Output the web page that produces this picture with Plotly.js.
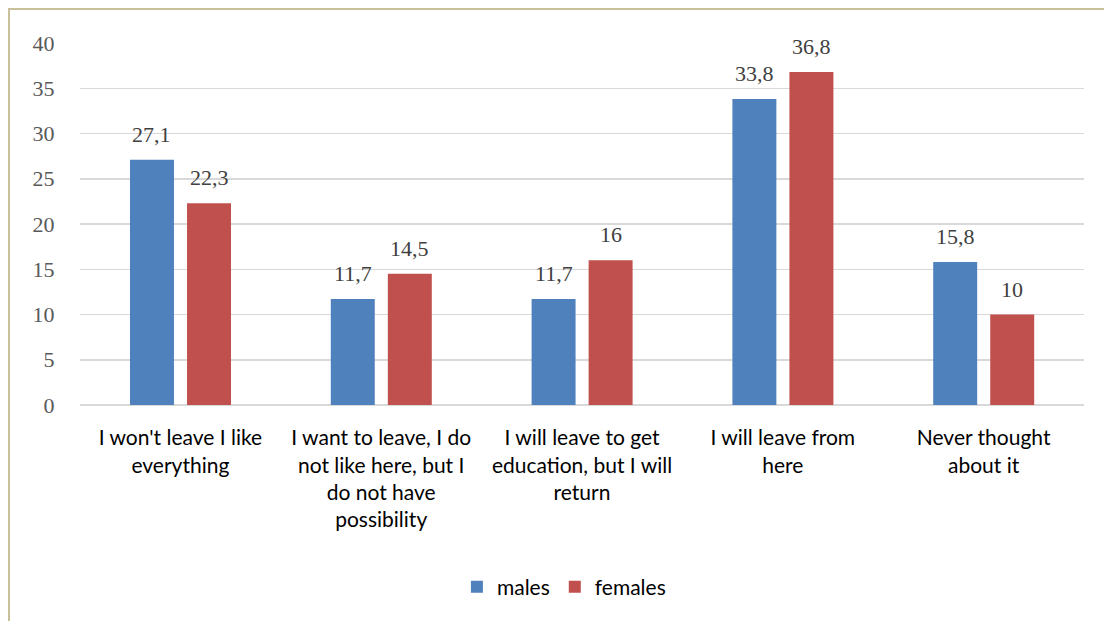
<!DOCTYPE html>
<html>
<head>
<meta charset="utf-8">
<script src="https://cdn.plot.ly/plotly-3.0.1.min.js"></script>
<style>
  html, body { margin: 0; padding: 0; background: #ffffff; }
  #frame { position: absolute; left: 8px; top: 8px; width: 1096px; height: 613px;
           border-left: 2px solid #c8c09b; border-top: 2px solid #c8c09b; box-sizing: border-box; }
  #chart { position: absolute; left: 0; top: 0; width: 1104px; height: 621px; }
</style>
</head>
<body>
<div id="frame"></div>
<div id="chart"></div>
<script>
const categories = [
  "I won't leave I like<br>everything",
  "I want to leave, I do<br>not like here, but I<br>do not have<br>possibility",
  "I will leave to get<br>education, but I will<br>return",
  "I will leave from<br>here",
  "Never thought<br>about it"
];
const males = [27.1, 11.7, 11.7, 33.8, 15.8];
const females = [22.3, 14.5, 16, 36.8, 10];
const seriesNames = ["males", "females"];
const yTicks = [0, 5, 10, 15, 20, 25, 30, 35, 40];

const fmt = v => String(v).replace('.', ',');
const serif = "Liberation Serif, DejaVu Serif, serif";
const sans = "Lato, Noto Sans, Liberation Sans, sans-serif";
const labelFont = { family: serif, size: 22, color: '#404040' };

const BAR_W = 0.219, OFF_M = -0.251, OFF_F = 0.033, CAT_PX = 200.8;

const traces = [
  {
    type: 'bar', name: seriesNames[0], x: categories, y: males,
    marker: { color: '#4f81bd' }, width: BAR_W, offset: OFF_M, hoverinfo: 'none'
  },
  {
    type: 'bar', name: seriesNames[1], x: categories, y: females,
    marker: { color: '#c0504d' }, width: BAR_W, offset: OFF_F, hoverinfo: 'none'
  }
];

const annotations = [];
[[males, OFF_M], [females, OFF_F]].forEach(([vals, off]) => {
  vals.forEach((v, i) => {
    annotations.push({
      x: categories[i], y: v, xref: 'x', yref: 'y',
      text: fmt(v), showarrow: false, font: labelFont,
      xanchor: 'center', yanchor: 'bottom',
      xshift: (off + BAR_W / 2) * CAT_PX, yshift: 11
    });
  });
});

const layout = {
  width: 1104, height: 621,
  margin: { l: 80, r: 20, t: 43, b: 216 },
  paper_bgcolor: 'rgba(0,0,0,0)', plot_bgcolor: 'rgba(0,0,0,0)',
  barmode: 'group',
  showlegend: true,
  annotations: annotations,
  legend: {
    orientation: 'h', x: 0.482, xanchor: 'center', y: -0.503, yanchor: 'middle',
    font: { family: sans, size: 21, color: '#000000' },
    itemwidth: 30, traceorder: 'normal'
  },
  xaxis: {
    type: 'category', tickmode: 'array', tickvals: categories, ticktext: categories,
    tickfont: { family: sans, size: 21, color: '#000000' },
    showgrid: false, showline: false, ticks: 'outside', ticklen: 14,
    tickcolor: 'rgba(0,0,0,0)', tickangle: 0, automargin: false
  },
  yaxis: {
    range: [0, 40], tickmode: 'array', tickvals: yTicks, ticktext: yTicks.map(String),
    tickfont: { family: serif, size: 22, color: '#595959' },
    showgrid: true, gridcolor: '#d9d9d9', gridwidth: 1.5,
    zeroline: true, zerolinecolor: '#d9d9d9', zerolinewidth: 1.5,
    showline: false, ticks: 'outside', ticklen: 20, tickcolor: 'rgba(0,0,0,0)', automargin: false
  }
};

Plotly.newPlot('chart', traces, layout, { displayModeBar: false, staticPlot: true });
</script>
</body>
</html>
